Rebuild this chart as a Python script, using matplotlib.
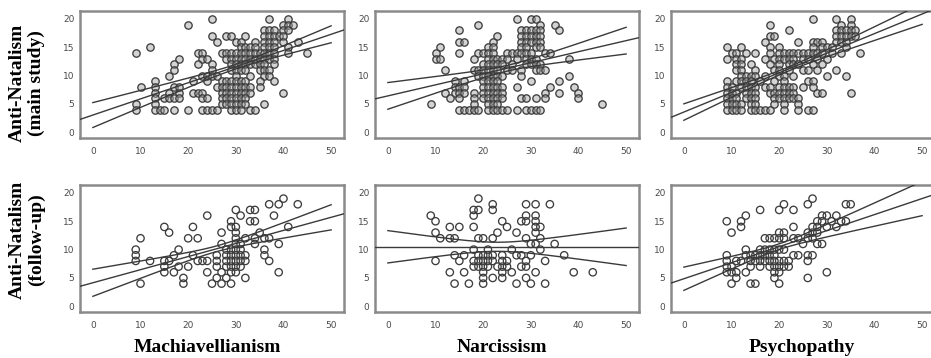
import numpy as np
import matplotlib
matplotlib.use("Agg")
import matplotlib.pyplot as plt

# scatter data: (anti-natalism score, [trait scores])
mach_main_rows = [
    (20, [25, 37, 41]),
    (19, [20, 40, 41, 42]),
    (18, [36, 37, 38, 40, 41]),
    (17, [25, 28, 29, 32, 36, 37, 38, 39, 40]),
    (16, [26, 30, 31, 34, 36, 37, 38, 40, 43]),
    (15, [12, 31, 32, 33, 34, 36, 37, 38, 41]),
    (14, [9, 22, 23, 27, 28, 29, 30, 31, 32, 33, 34, 35, 36, 37, 38, 41, 45]),
    (13, [18, 23, 24, 28, 29, 30, 31, 32, 33, 34, 35, 36, 37, 38]),
    (12, [17, 22, 25, 29, 30, 31, 32, 33, 34, 35, 36, 38]),
    (11, [17, 25, 29, 30, 31, 32, 35, 36, 37]),
    (10, [16, 23, 24, 25, 26, 30, 33, 36, 37]),
    (9, [13, 21, 24, 27, 28, 29, 30, 31, 32, 35, 38]),
    (8, [10, 13, 17, 18, 26, 27, 28, 29, 30, 31, 32, 33, 35]),
    (7, [13, 16, 18, 21, 22, 23, 27, 28, 29, 30, 31, 32, 33, 40]),
    (6, [13, 15, 16, 17, 18, 23, 24, 27, 28, 29, 30, 31, 32]),
    (5, [9, 13, 27, 28, 29, 30, 31, 32, 36]),
    (4, [9, 13, 14, 15, 17, 20, 23, 24, 25, 26, 29, 30, 31, 33, 34]),
]
narc_main_rows = [
    (20, [27, 30, 31]),
    (19, [19, 32, 35]),
    (18, [15, 28, 29, 30, 31, 32, 36]),
    (17, [23, 28, 29, 30, 31, 32]),
    (16, [15, 16, 22, 28, 29, 30, 31, 32]),
    (15, [11, 21, 22, 28, 29, 31, 32]),
    (14, [10, 15, 19, 20, 21, 22, 25, 26, 27, 28, 29, 30, 33, 34]),
    (13, [10, 11, 18, 21, 22, 23, 24, 25, 27, 29, 30, 31, 38]),
    (12, [20, 21, 22, 23, 24, 26, 29, 30, 31, 32]),
    (11, [12, 18, 19, 20, 21, 22, 23, 25, 26, 28, 31, 32, 33]),
    (10, [19, 20, 21, 22, 23, 24, 28, 38]),
    (9, [14, 16, 20, 21, 22, 23, 30, 36]),
    (8, [14, 15, 16, 20, 21, 22, 23, 24, 27, 34, 39]),
    (7, [12, 14, 15, 16, 18, 20, 21, 22, 23, 24, 33, 36, 40]),
    (6, [13, 15, 18, 20, 21, 22, 23, 24, 28, 29, 31, 33, 40]),
    (5, [9, 18, 21, 22, 23, 45]),
    (4, [15, 16, 17, 18, 19, 21, 22, 23, 24, 25, 27, 29, 30, 31, 32]),
]
psych_main_rows = [
    (20, [27, 32, 35]),
    (19, [18, 33, 35]),
    (18, [22, 32, 33, 34, 35, 36]),
    (17, [18, 19, 32, 33, 34, 35, 36]),
    (16, [17, 24, 27, 28, 29, 32, 33, 34]),
    (15, [9, 12, 18, 20, 27, 29, 30, 31, 34]),
    (14, [10, 11, 13, 15, 18, 20, 21, 22, 23, 24, 25, 26, 27, 28, 29, 31, 33, 37]),
    (13, [9, 11, 12, 17, 19, 20, 21, 22, 23, 25, 26, 28, 30]),
    (12, [11, 12, 14, 18, 20, 22, 23, 24, 27, 29]),
    (11, [11, 12, 15, 19, 20, 22, 25, 26, 28, 32]),
    (10, [12, 13, 14, 15, 17, 20, 21, 23, 30, 34]),
    (9, [9, 11, 12, 13, 14, 16, 19, 21, 26, 27]),
    (8, [9, 10, 12, 13, 14, 15, 17, 18, 20, 21, 22, 23, 25, 27]),
    (7, [9, 10, 11, 13, 14, 15, 18, 19, 20, 21, 22, 23, 28, 29, 35]),
    (6, [9, 10, 11, 13, 14, 15, 19, 20, 21, 22, 23, 24]),
    (5, [9, 10, 11, 12, 14, 15, 19, 21, 24]),
    (4, [9, 10, 11, 12, 14, 15, 16, 17, 18, 21, 24, 26, 27]),
]
mach_follow_rows = [
    (19, [40]),
    (18, [37, 39, 43]),
    (17, [30, 33, 34]),
    (16, [24, 31, 38]),
    (15, [29, 33, 34]),
    (14, [15, 21, 29, 30, 41]),
    (13, [16, 27, 30, 35]),
    (12, [10, 20, 22, 30, 32, 34, 36, 37]),
    (11, [27, 30, 31, 34, 39]),
    (10, [9, 18, 28, 29, 30, 31, 36]),
    (9, [9, 17, 21, 26, 28, 29, 30, 31, 32, 36]),
    (8, [9, 12, 15, 16, 22, 23, 24, 26, 28, 29, 30, 31, 32, 37]),
    (7, [15, 18, 20, 26, 28, 29, 30, 31]),
    (6, [15, 17, 24, 27, 29, 30, 39]),
    (5, [19, 26, 28, 32]),
    (4, [10, 19, 25, 27, 29]),
]
narc_follow_rows = [
    (19, [19]),
    (18, [22, 29, 31, 34]),
    (17, [18, 19, 22]),
    (16, [9, 18, 29, 31]),
    (15, [10, 24, 28, 29, 31]),
    (14, [13, 15, 18, 25, 31, 32]),
    (13, [10, 23, 27, 31]),
    (12, [11, 13, 14, 19, 20, 22, 29, 32]),
    (11, [30, 31, 35]),
    (10, [18, 21, 26, 32]),
    (9, [14, 16, 19, 20, 21, 22, 24, 27, 28, 30, 37]),
    (8, [10, 15, 18, 19, 20, 21, 22, 24, 25, 29, 33]),
    (7, [18, 19, 20, 21, 23, 24, 25, 28, 29]),
    (6, [13, 16, 20, 24, 26, 31, 39, 43]),
    (5, [20, 22, 24, 29]),
    (4, [14, 17, 20, 27, 30, 33]),
]
psych_follow_rows = [
    (19, [27]),
    (18, [21, 26, 34, 35]),
    (17, [16, 20, 23]),
    (16, [13, 29, 30, 32]),
    (15, [9, 12, 28, 29, 31, 33, 34]),
    (14, [12, 23, 27, 28, 30, 32]),
    (13, [10, 20, 21, 26, 27, 28]),
    (12, [17, 18, 19, 20, 21, 23, 24, 26, 27]),
    (11, [25, 28, 29]),
    (10, [13, 16, 17, 18, 19, 20, 21]),
    (9, [9, 13, 14, 15, 16, 17, 18, 19, 23, 24, 26, 27]),
    (8, [9, 11, 12, 14, 15, 16, 17, 18, 19, 20, 21, 22, 26]),
    (7, [9, 10, 14, 16, 18, 19, 20, 21, 22]),
    (6, [9, 10, 11, 13, 19, 20, 30]),
    (5, [11, 19, 26]),
    (4, [10, 14, 15, 20]),
]

# fit lines and 95% bands (row-major panel order)
fit_intercept = [3.04, 6.42, 3.57, 4.15, 10.5, 4.86]
fit_slope = [0.285, 0.195, 0.346, 0.231, 0.0, 0.283]
band_center = [30, 25, 22, 26, 23, 20]
band_min = [0.4, 0.5, 0.35, 0.5, 0.8, 0.5]
band_rate = [0.072, 0.092, 0.064, 0.090, 0.119, 0.0994]

row_labels = ["Anti-Natalism\n(main study)", "Anti-Natalism\n(follow-up)"]
col_labels = ["Machiavellianism", "Narcissism", "Psychopathy"]
xticks = [0, 10, 20, 30, 40, 50]
yticks = [0, 5, 10, 15, 20]

panels = [mach_main_rows, narc_main_rows, psych_main_rows,
          mach_follow_rows, narc_follow_rows, psych_follow_rows]

W, H = 931, 358
fig = plt.figure(figsize=(W / 100, H / 100), dpi=100)

col_left = [80, 375, 671]
row_top = [11, 185]
pw, ph = 264, 126.5

for i, rows in enumerate(panels):
    r, c = divmod(i, 3)
    ax = fig.add_axes([col_left[c] / W, 1 - (row_top[r] + ph) / H, pw / W, ph / H])
    xs = np.concatenate([np.array(v, float) for _, v in rows])
    ys = np.concatenate([np.full(len(v), float(y)) for y, v in rows])
    face = (0.62, 0.62, 0.62, 0.45) if r == 0 else "none"
    ax.scatter(xs, ys, s=28, facecolors=face, edgecolors="#3d3d3d",
               linewidths=0.95, zorder=2)

    ax.set_xlim(-2.7, 52.7)
    ax.set_ylim(-0.92, 21.4)
    xl = np.array(ax.get_xlim())
    ax.plot(xl, fit_intercept[i] + fit_slope[i] * xl, color="#3a3a3a", lw=1.0, zorder=3)
    xb = np.linspace(0, 50, 200)
    yb = fit_intercept[i] + fit_slope[i] * xb
    hw = np.sqrt(band_min[i] ** 2 + (band_rate[i] * (xb - band_center[i])) ** 2)
    ax.plot(xb, yb + hw, color="#3a3a3a", lw=1.0, zorder=3)
    ax.plot(xb, yb - hw, color="#3a3a3a", lw=1.0, zorder=3)

    ax.set_xticks(xticks)
    ax.set_yticks(yticks)
    ax.tick_params(length=0, labelsize=6.5, labelcolor="#4a4a4a")
    ax.tick_params(axis="x", pad=6.5)
    ax.tick_params(axis="y", pad=4)
    for sp in ax.spines.values():
        sp.set_color("#8a8a8a")
        sp.set_linewidth(1.8)

label_font = dict(family="Liberation Serif", fontweight="bold", fontsize=14)
fig.text(26.5 / W, 1 - 83 / H, row_labels[0], rotation=90, ha="center", va="center",
         multialignment="center", linespacing=1.15, **label_font)
fig.text(26.5 / W, 1 - 240 / H, row_labels[1], rotation=90, ha="center", va="center",
         multialignment="center", linespacing=1.15, **label_font)
for cx, lab in zip([207, 502, 802], col_labels):
    fig.text(cx / W, 1 - 352.5 / H, lab, ha="center", va="baseline", **label_font)

fig.savefig("out.png", dpi=100)
